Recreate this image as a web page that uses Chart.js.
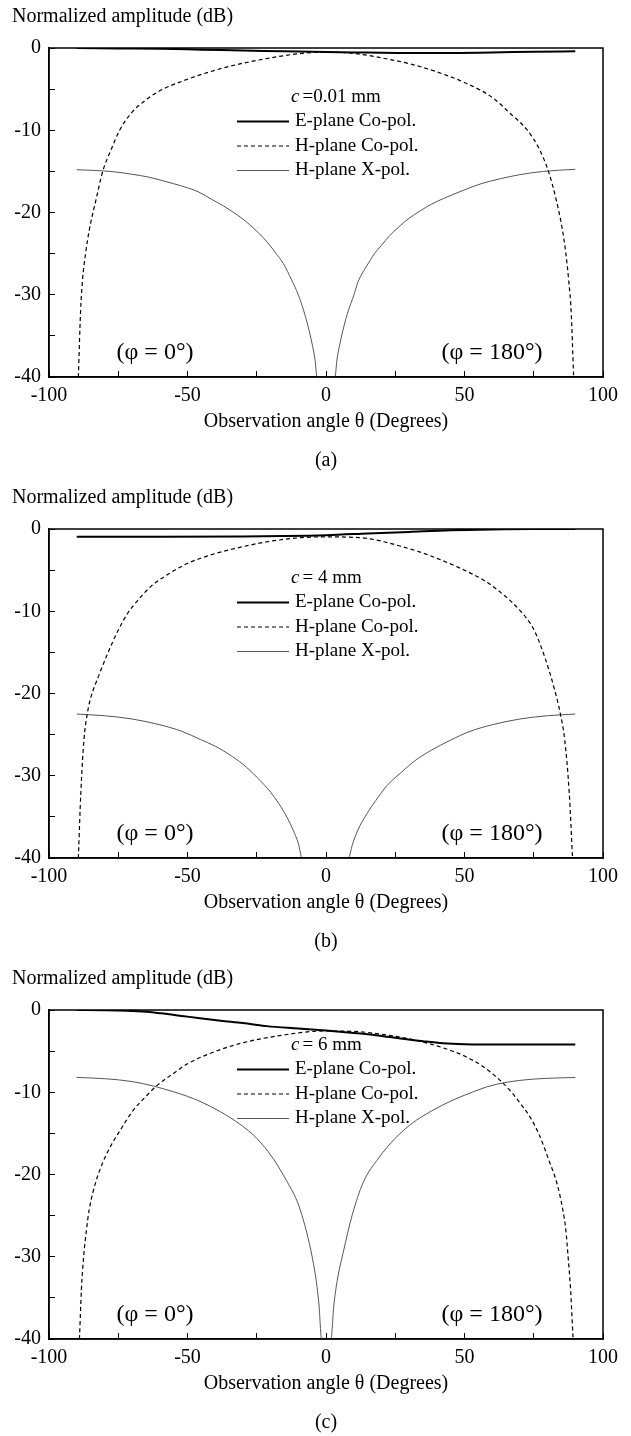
<!DOCTYPE html>
<html>
<head>
<meta charset="utf-8">
<title>Normalized amplitude vs observation angle</title>
<script src="https://cdn.jsdelivr.net/npm/chart.js@4.4.0/dist/chart.umd.min.js"></script>
<style>
  body { margin: 0; background: #fff; }
  .panel { position: absolute; left: 0; width: 631px; height: 474px; }
</style>
</head>
<body>
<div class="panel" style="top:0px"><canvas id="chart-a" width="631" height="474"></canvas></div>
<div class="panel" style="top:481px"><canvas id="chart-b" width="631" height="474"></canvas></div>
<div class="panel" style="top:962px"><canvas id="chart-c" width="631" height="474"></canvas></div>
<script>
// axis ticks that carry a label (the others are just marks)
const thetaTicks = [-100, -50, 0, 50, 100];
const dbTicks = [0, -10, -20, -30, -40];

const seriesLabels = ['E-plane Co-pol.', 'H-plane Co-pol.', 'H-plane X-pol.'];
const captions = ['(a)', '(b)', '(c)'];
const gapLabels = ['=0.01 mm', '= 4 mm', '= 6 mm'];

// (a) c = 0.01 mm   [theta, dB]
const eCoA = [[-90, 0], [-75, -0.05], [-60, -0.1], [-45, -0.2], [-30, -0.3], [-15, -0.4], [0, -0.5],
  [15, -0.55], [30, -0.6], [45, -0.6], [60, -0.55], [75, -0.45], [90, -0.4]];
const hCoA = [[-89.4, -40], [-88.6, -32], [-87.9, -28.2], [-86.8, -25], [-85.5, -22.2], [-83, -18.4],
  [-80.6, -15], [-77.5, -12.3], [-74.5, -10], [-70, -7.8], [-65, -6.3], [-60, -5.2], [-50, -3.8],
  [-40, -2.7], [-30, -1.85], [-20, -1.2], [-10, -0.7], [0, -0.5], [10, -0.65], [20, -1.2], [30, -1.9],
  [40, -2.9], [50, -4.2], [60, -6], [66, -7.8], [72.7, -10], [77, -12.3], [80.3, -15], [83, -18.3],
  [85.3, -22], [86.6, -25], [87.6, -28.2], [88.5, -32], [89.4, -40]];
const xPolA = [[-90, -14.8], [-78, -15], [-70, -15.35], [-64, -15.7], [-55, -16.5], [-50, -17],
  [-46, -17.5], [-41, -18.45], [-37, -19.2], [-34, -19.85], [-30, -20.8], [-27.5, -21.5], [-24, -22.6],
  [-21, -23.7], [-18, -25], [-15.4, -26.2], [-12.4, -28.2], [-10, -30], [-8, -32], [-6.5, -33.8],
  [-5, -36], [-4, -37.8], [-3.2, -40], [0, -40], [3.2, -40], [4, -37.8], [5, -36], [6.5, -33.8],
  [8, -32], [10, -30.1], [11.6, -28.4], [14.7, -26.5], [17.5, -25], [20, -24], [23, -22.8],
  [26.8, -21.6], [30, -20.7], [34, -19.8], [38, -19], [42.4, -18.3], [50, -17.25], [56, -16.5],
  [62.9, -15.9], [70, -15.4], [78.5, -15], [90, -14.75]];

// (b) c = 4 mm
const eCoB = [[-90, -0.95], [-60, -0.95], [-30, -0.9], [-15, -0.85], [0, -0.75], [15, -0.55],
  [30, -0.35], [45, -0.15], [60, -0.05], [75, 0], [90, 0]];
const hCoB = [[-89.4, -40], [-88.5, -32], [-87.4, -25.7], [-86.2, -22.5], [-85, -20.6], [-82, -17.8],
  [-78.9, -15.2], [-75.3, -12.5], [-71.7, -10.3], [-67.5, -8.5], [-63.3, -7], [-57, -5.5],
  [-50.1, -4.2], [-43, -3.3], [-35.7, -2.6], [-28, -2], [-21.3, -1.55], [-9.3, -1.06], [0, -0.95],
  [7, -0.98], [14.8, -1.14], [21, -1.55], [27, -2.1], [33, -2.7], [38.8, -3.4], [48, -4.7],
  [56.8, -6.2], [63, -7.7], [70, -9.9], [75, -12.2], [79, -15.6], [82.5, -19.5], [84.5, -22.3],
  [86.2, -25.7], [87.8, -32], [89, -40]];
const xPolB = [[-90, -22.5], [-80, -22.7], [-70, -23.1], [-60, -23.8], [-52, -24.6], [-45.3, -25.6],
  [-40, -26.4], [-35, -27.4], [-30, -28.6], [-24.9, -30.2], [-20, -32], [-17, -33.4], [-14, -35.1],
  [-12, -36.5], [-10, -38.2], [-8.6, -40], [0, -40], [8.1, -40], [9.5, -38.4], [11.5, -36.6],
  [14.8, -34.6], [18, -33], [22, -31.2], [26.8, -29.7], [32, -28.2], [38, -26.9], [44.8, -25.7],
  [52, -24.6], [60, -23.8], [70, -23.1], [80, -22.7], [90, -22.5]];

// (c) c = 6 mm
const eCoC = [[-90, 0], [-80, -0.02], [-72, -0.08], [-64.7, -0.22], [-59.6, -0.4], [-52, -0.72],
  [-45.5, -1], [-38, -1.3], [-30, -1.58], [-21.4, -1.96], [-10, -2.25], [0, -2.5], [10, -2.8],
  [20, -3.15], [27.7, -3.5], [35, -3.8], [42.3, -4.05], [50, -4.17], [56.8, -4.2], [75, -4.2], [90, -4.2]];
const hCoC = [[-89, -40], [-88.3, -34], [-87.5, -30], [-86.5, -26.8], [-85.5, -24.3], [-83, -20.8],
  [-80.4, -18.4], [-77.5, -16.4], [-75, -15], [-69.6, -12.2], [-65, -10.5], [-61.1, -9.2],
  [-55, -7.7], [-50.3, -6.6], [-42, -5.3], [-33.4, -4.3], [-25, -3.6], [-15.5, -3.05], [-8, -2.7],
  [0, -2.55], [10, -2.6], [20, -2.95], [27.7, -3.35], [35, -3.9], [42.3, -4.6], [50, -5.6],
  [56.8, -6.9], [63, -8.6], [67, -10], [70, -11.3], [74, -13.2], [77, -15.2], [80.5, -18.3],
  [83.3, -21], [85.5, -24.3], [86.6, -26.8], [87.4, -30], [88.3, -34], [89.2, -40]];
const xPolC = [[-90, -8.2], [-80, -8.35], [-70, -8.7], [-62.3, -9.25], [-55, -9.95], [-50, -10.5],
  [-45.5, -11.1], [-38, -12.4], [-31, -13.9], [-25, -15.6], [-19, -18.1], [-14, -20.9], [-11, -22.8],
  [-9.4, -24.2], [-7, -27], [-5, -30], [-3.5, -33], [-2.5, -36], [-1.6, -40], [0, -40], [1.8, -40],
  [2.8, -36], [4, -33], [6.2, -29.5], [9.4, -25], [13.4, -21], [19, -18], [25, -15.6], [31, -13.8],
  [38, -12.3], [45.5, -11], [52, -10.1], [58, -9.35], [65, -8.8], [75, -8.4], [90, -8.2]];

const serif = '"Liberation Serif", "Times New Roman", serif';
Chart.defaults.font.family = serif;
Chart.defaults.color = '#000';

const lineStyles = [
  { borderWidth: 2, borderDash: [], borderColor: '#000' },
  { borderWidth: 1.2, borderDash: [4, 3], borderColor: '#000' },
  { borderWidth: 1, borderDash: [], borderColor: '#555' }
];

// box, legend and the phi notes inside the plot
const plotNotes = {
  id: 'plotNotes',
  afterDatasetsDraw(chart, args, opts) {
    const ctx = chart.ctx;
    const a = chart.chartArea;
    ctx.save();
    ctx.strokeStyle = '#000';
    ctx.lineWidth = 1.5;
    ctx.strokeRect(a.left, a.top, a.right - a.left, a.bottom - a.top);

    ctx.fillStyle = '#000';
    ctx.textBaseline = 'middle';
    let y = a.top + opts.legendTop;
    ctx.font = 'italic 19px ' + serif;
    ctx.fillText('c', a.left + 242, y);
    let cw = ctx.measureText('c').width;
    ctx.font = '19px ' + serif;
    ctx.fillText(opts.gap, a.left + 245 + cw, y);

    chart.data.datasets.forEach(function(ds) {
      y += 24.5;
      ctx.beginPath();
      ctx.setLineDash(ds.borderDash);
      ctx.lineWidth = ds.borderWidth;
      ctx.strokeStyle = ds.borderColor;
      ctx.moveTo(a.left + 188, y);
      ctx.lineTo(a.left + 240, y);
      ctx.stroke();
      ctx.setLineDash([]);
      ctx.fillText(ds.label, a.left + 246, y);
    });

    ctx.font = '24px ' + serif;
    ctx.textAlign = 'center';
    ctx.fillText('(\u03c6 = 0\u00b0)', a.left + 106, a.bottom - 24);
    ctx.fillText('(\u03c6 = 180\u00b0)', a.left + 443, a.bottom - 24);
    ctx.restore();
  }
};

function axisFont() {
  return { family: serif, size: 20, weight: 'normal' };
}

function makeChart(canvasId, series, caption, gap, legendTop) {
  let ctx = document.getElementById(canvasId).getContext('2d');
  return new Chart(ctx, {
    type: 'line',
    data: {
      datasets: series.map(function(pts, i) {
        return Object.assign({
          label: seriesLabels[i],
          data: pts.map(p => ({ x: p[0], y: p[1] })),
          pointRadius: 0,
          fill: false,
          cubicInterpolationMode: 'monotone'
        }, lineStyles[i]);
      })
    },
    options: {
      responsive: false,
      animation: false,
      layout: { padding: { left: 12, right: 28, top: 0, bottom: 0 } },
      scales: {
        x: {
          type: 'linear',
          min: -100,
          max: 100,
          ticks: {
            stepSize: 25,
            autoSkip: false,
            maxRotation: 0,
            padding: 13,
            color: '#000',
            font: axisFont(),
            callback: v => thetaTicks.includes(v) ? String(v) : ''
          },
          grid: { drawOnChartArea: false, tickLength: -6, color: '#000', lineWidth: 1 },
          border: { color: '#000', width: 1.5 },
          title: {
            display: true,
            text: 'Observation angle \u03b8 (Degrees)',
            color: '#000',
            font: axisFont(),
            padding: 0
          },
          afterFit: s => { s.height = 57; }
        },
        y: {
          type: 'linear',
          min: -40,
          max: 0,
          ticks: {
            stepSize: 5,
            autoSkip: false,
            padding: 14,
            color: '#000',
            font: axisFont(),
            callback: v => dbTicks.includes(v) ? String(v) : ''
          },
          grid: { drawOnChartArea: false, tickLength: -6, color: '#000', lineWidth: 1 },
          border: { color: '#000', width: 1.5 },
          afterFit: s => { s.width = 37; }
        }
      },
      plugins: {
        legend: { display: false },
        tooltip: { enabled: false },
        title: {
          display: true,
          text: 'Normalized amplitude (dB)',
          align: 'start',
          color: '#000',
          font: axisFont(),
          padding: { top: 5, bottom: 19 }
        },
        subtitle: {
          display: true,
          text: caption,
          position: 'bottom',
          fullSize: false,
          color: '#000',
          font: axisFont(),
          padding: { top: 15, bottom: 1 }
        },
        plotNotes: { gap: gap, legendTop: legendTop }
      }
    },
    plugins: [plotNotes]
  });
}

makeChart('chart-a', [eCoA, hCoA, xPolA], captions[0], gapLabels[0], 49);
makeChart('chart-b', [eCoB, hCoB, xPolB], captions[1], gapLabels[1], 49);
makeChart('chart-c', [eCoC, hCoC, xPolC], captions[2], gapLabels[2], 35);
</script>
</body>
</html>
